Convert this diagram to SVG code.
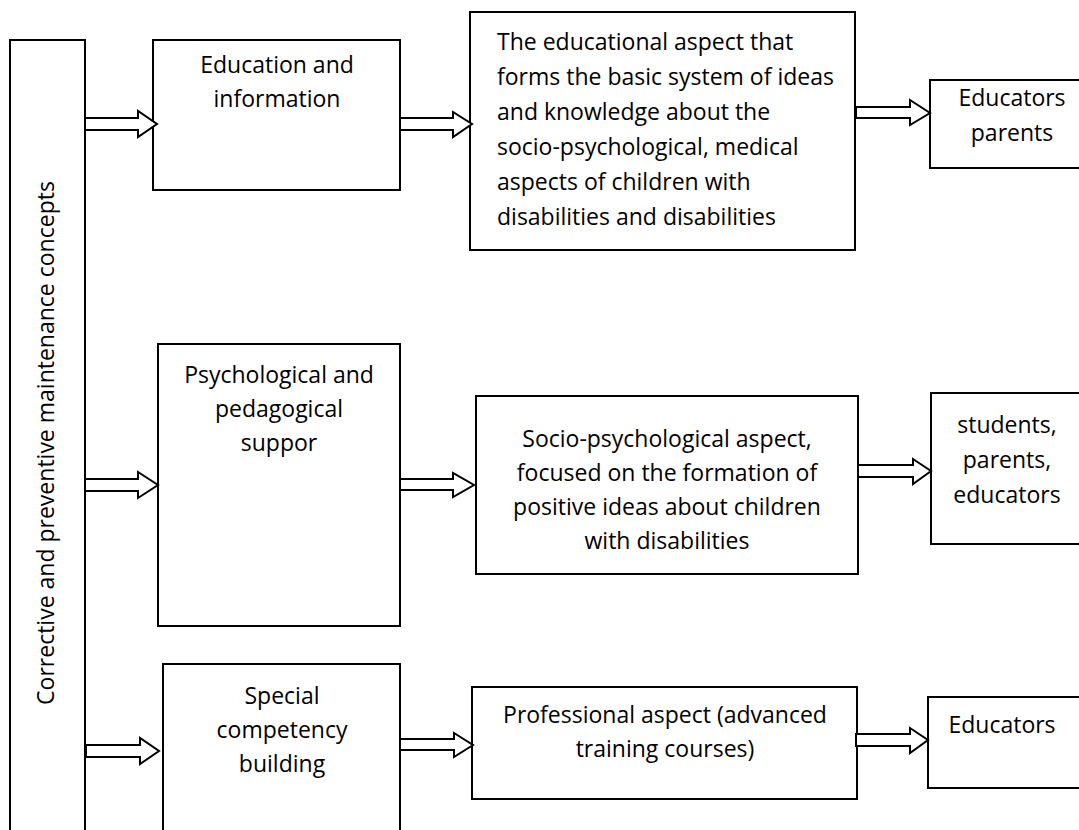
<svg xmlns="http://www.w3.org/2000/svg" width="1079" height="830" viewBox="0 0 1079 830">
<style>
.box{fill:#fff;stroke:#000;stroke-width:2}
.arr{fill:#fff;stroke:#000;stroke-width:2;stroke-linejoin:miter}
text{font-family:"Open Sans","Liberation Sans",sans-serif;font-size:23px;fill:#000}
.c{text-anchor:middle}
</style>
<rect width="1079" height="830" fill="#fff"/>
<g id="concepts">
<rect class="box" x="10" y="40" width="75" height="800"/>
<text class="c" transform="translate(54,443) rotate(-90)">Corrective and preventive maintenance concepts</text>
</g>
<g id="education-information">
<rect class="box" x="153" y="40" width="247" height="150"/>
<text class="c" x="277" y="73">Education and</text>
<text class="c" x="277" y="107">information</text>
</g>
<g id="educational-aspect">
<rect class="box" x="470" y="12" width="385" height="238"/>
<text x="497" y="50">The educational aspect that</text>
<text x="497" y="85">forms the basic system of ideas</text>
<text x="497" y="120">and knowledge about the</text>
<text x="497" y="155">socio-psychological, medical</text>
<text x="497" y="190">aspects of children with</text>
<text x="497" y="225">disabilities and disabilities</text>
</g>
<g id="educators-parents">
<rect class="box" x="930" y="80" width="170" height="88"/>
<text class="c" x="1012" y="106">Educators</text>
<text class="c" x="1012" y="141">parents</text>
</g>
<g id="psych-support">
<rect class="box" x="158" y="344" width="242" height="282"/>
<text class="c" x="279" y="383">Psychological and</text>
<text class="c" x="279" y="417">pedagogical</text>
<text class="c" x="279" y="451">suppor</text>
</g>
<g id="socio-psych-aspect">
<rect class="box" x="476" y="396" width="382" height="178"/>
<text class="c" x="667" y="447">Socio-psychological aspect,</text>
<text class="c" x="667" y="481">focused on the formation of</text>
<text class="c" x="667" y="515">positive ideas about children</text>
<text class="c" x="667" y="549">with disabilities</text>
</g>
<g id="students-parents-educators">
<rect class="box" x="931" y="393" width="170" height="151"/>
<text class="c" x="1007" y="433">students,</text>
<text class="c" x="1007" y="468">parents,</text>
<text class="c" x="1007" y="503">educators</text>
</g>
<g id="special-competency">
<rect class="box" x="163" y="664" width="237" height="180"/>
<text class="c" x="282" y="704">Special</text>
<text class="c" x="282" y="738">competency</text>
<text class="c" x="282" y="772">building</text>
</g>
<g id="professional-aspect">
<rect class="box" x="472" y="687" width="385" height="112"/>
<text class="c" x="665" y="723">Professional aspect (advanced</text>
<text class="c" x="665" y="757">training courses)</text>
</g>
<g id="educators">
<rect class="box" x="928" y="697" width="170" height="91"/>
<text class="c" x="1002" y="733">Educators</text>
</g>
<g id="connectors">
<polygon class="arr" points="85,118 138,118 138,111 157,124 138,137 138,130 85,130"/>
<polygon class="arr" points="400,118 453,118 453,112 472,124 453,137 453,130 400,130"/>
<polygon class="arr" points="856,107 910,107 910,100 930,113 910,125 910,118 856,118"/>
<polygon class="arr" points="85,479 138,479 138,472 158,485 138,498 138,491 85,491"/>
<polygon class="arr" points="400,479 453,479 453,473 474,485 453,497 453,490 400,490"/>
<polygon class="arr" points="858,465 913,465 913,459 931,471 913,484 913,477 858,477"/>
<polygon class="arr" points="86,745 140,745 140,738 159,751 140,764 140,757 86,757"/>
<polygon class="arr" points="400,739 454,739 454,733 473,745 454,757 454,750 400,750"/>
<polygon class="arr" points="856,734 910,734 910,728 928,740 910,753 910,746 856,746"/>
</g>
</svg>
